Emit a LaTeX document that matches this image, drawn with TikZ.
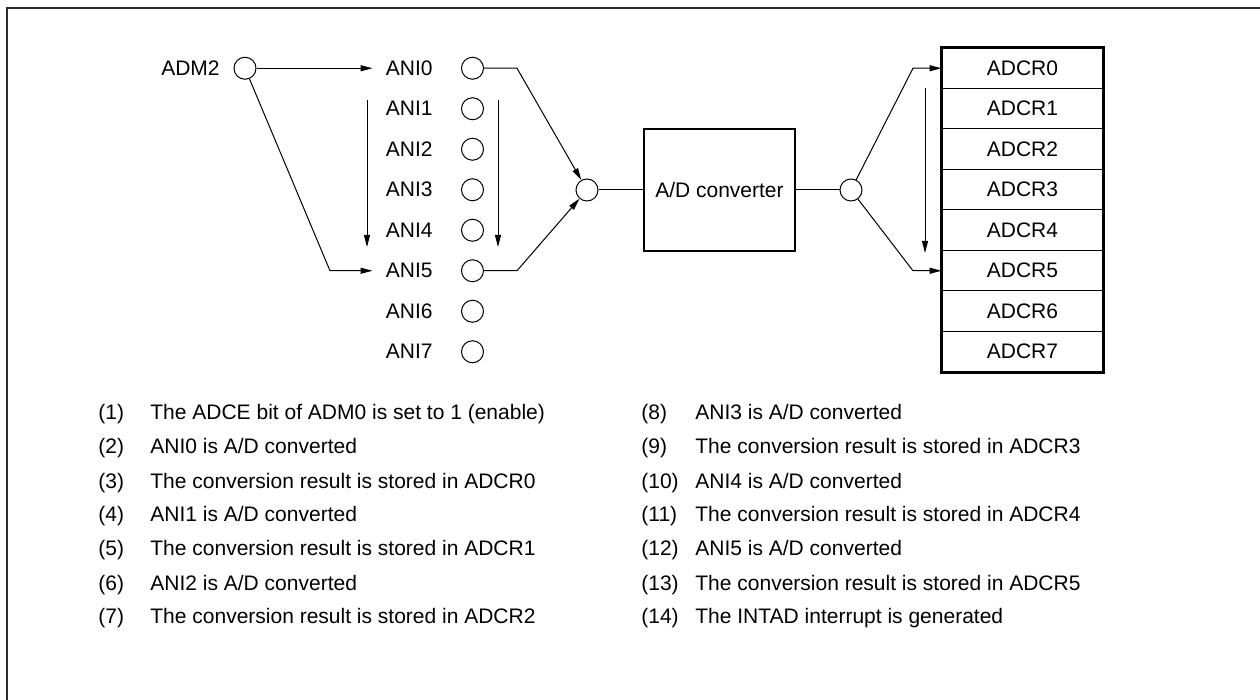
\documentclass[tikz,border=0pt]{standalone}
\usepackage{fontspec}
\setmainfont{Liberation Sans}
\usepackage{tikz}
\usetikzlibrary{arrows.meta, calc}
\definecolor{inkframe}{RGB}{45, 45, 45}
\tikzset{
    txt/.style  ={inner sep=0pt, font=\fontsize{10.5}{12}\selectfont},
    pin/.style  ={draw, circle, line width=0.5pt, minimum size=11pt, inner sep=0pt},
    conv/.style ={draw, line width=1.1pt, minimum width=75.5pt, minimum height=61pt,
                  inner sep=0pt, font=\fontsize{10.5}{12}\selectfont},
    reg/.style  ={draw, line width=0.5pt, minimum width=80.5pt, minimum height=20.25pt,
                  inner sep=0pt, font=\fontsize{10.5}{12}\selectfont},
    ln/.style   ={line width=0.5pt},
    ar/.style   ={-{Triangle[length=6pt, width=3pt]}, line width=0.5pt}
}

\begin{document}
\begin{tikzpicture}[x=0.5pt, y=-0.5pt]
  \useasboundingbox (0,0) rectangle (1260,700);
  \draw[line width=1pt, draw=inkframe] (6.5,700) -- (6.5,8.5) -- (1260,8.5);

  % mode register
  \node[txt, anchor=east] (adm2l) at (220,68.25) {ADM2};
  \node[pin] (adm2) at (245,68.25) {};

  % analog inputs
  \node[txt, anchor=east] (ani0l) at (433,68.25)  {ANI0};
  \node[txt, anchor=east] (ani1l) at (433,108.75) {ANI1};
  \node[txt, anchor=east] (ani2l) at (433,149.25) {ANI2};
  \node[txt, anchor=east] (ani3l) at (433,189.75) {ANI3};
  \node[txt, anchor=east] (ani4l) at (433,230.25) {ANI4};
  \node[txt, anchor=east] (ani5l) at (433,270.75) {ANI5};
  \node[txt, anchor=east] (ani6l) at (433,311.25) {ANI6};
  \node[txt, anchor=east] (ani7l) at (433,351.75) {ANI7};
  \node[pin] (ani0) at (472.5,68.25)  {};
  \node[pin] (ani1) at (472.5,108.75) {};
  \node[pin] (ani2) at (472.5,149.25) {};
  \node[pin] (ani3) at (472.5,189.75) {};
  \node[pin] (ani4) at (472.5,230.25) {};
  \node[pin] (ani5) at (472.5,270.75) {};
  \node[pin] (ani6) at (472.5,311.25) {};
  \node[pin] (ani7) at (472.5,351.75) {};

  % converter
  \node[pin]  (mux)   at (587,190)   {};
  \node[conv] (adc)   at (719.5,190) {A/D converter};
  \node[pin]  (demux) at (851,190)   {};

  % result registers
  \node[reg] (adcr0) at (1022.5,68.25)  {ADCR0};
  \node[reg] (adcr1) at (1022.5,108.75) {ADCR1};
  \node[reg] (adcr2) at (1022.5,149.25) {ADCR2};
  \node[reg] (adcr3) at (1022.5,189.75) {ADCR3};
  \node[reg] (adcr4) at (1022.5,230.25) {ADCR4};
  \node[reg] (adcr5) at (1022.5,270.75) {ADCR5};
  \node[reg] (adcr6) at (1022.5,311.25) {ADCR6};
  \node[reg] (adcr7) at (1022.5,351.75) {ADCR7};
  \draw[line width=1.1pt] (adcr0.north west) rectangle (adcr7.south east);

  % scan range
  \draw[ar, shorten >=6.5pt] (adm2) -- (ani0l.west);
  \draw[ar, shorten >=6.5pt] (adm2) -- (330,270.75) -- (ani5l.west);
  \coordinate (scanl0) at (367,100);
  \coordinate (scanl1) at (367,247);
  \coordinate (scanr0) at (498,100);
  \coordinate (scanr1) at (498,247);
  \draw[ar] (scanl0) -- (scanl1);
  \draw[ar] (scanr0) -- (scanr1);

  \draw[ar] (ani0) -- (517,68.25)  -- (mux);
  \draw[ar] (ani5) -- (517,270.75) -- (mux);
  \draw[ln] (mux) -- (adc);
  \draw[ln] (adc) -- (demux);

  \draw[ar] (demux) -- (913,68.25)  -- (adcr0.west);
  \draw[ar] (demux) -- (913,270.75) -- (adcr5.west);
  \coordinate (store0) at (925,88);
  \coordinate (store1) at (925,253);
  \draw[ar] (store0) -- (store1);

  % sequence
  \node[txt, anchor=base west] (n1) at (98,420) {(1)};
  \node[txt, anchor=base west] (n2) at (98,454) {(2)};
  \node[txt, anchor=base west] (n3) at (98,488) {(3)};
  \node[txt, anchor=base west] (n4) at (98,522) {(4)};
  \node[txt, anchor=base west] (n5) at (98,556) {(5)};
  \node[txt, anchor=base west] (n6) at (98,590) {(6)};
  \node[txt, anchor=base west] (n7) at (98,624) {(7)};
  \node[txt, anchor=base west] (s1) at (150,420) {The ADCE bit of ADM0 is set to 1 (enable)};
  \node[txt, anchor=base west] (s2) at (150,454) {ANI0 is A/D converted};
  \node[txt, anchor=base west] (s3) at (150,488) {The conversion result is stored in ADCR0};
  \node[txt, anchor=base west] (s4) at (150,522) {ANI1 is A/D converted};
  \node[txt, anchor=base west] (s5) at (150,556) {The conversion result is stored in ADCR1};
  \node[txt, anchor=base west] (s6) at (150,590) {ANI2 is A/D converted};
  \node[txt, anchor=base west] (s7) at (150,624) {The conversion result is stored in ADCR2};

  \node[txt, anchor=base west] (n8)  at (641,420) {(8)};
  \node[txt, anchor=base west] (n9)  at (641,454) {(9)};
  \node[txt, anchor=base west] (n10) at (641,488) {(10)};
  \node[txt, anchor=base west] (n11) at (641,522) {(11)};
  \node[txt, anchor=base west] (n12) at (641,556) {(12)};
  \node[txt, anchor=base west] (n13) at (641,590) {(13)};
  \node[txt, anchor=base west] (n14) at (641,624) {(14)};
  \node[txt, anchor=base west] (s8)  at (695,420) {ANI3 is A/D converted};
  \node[txt, anchor=base west] (s9)  at (695,454) {The conversion result is stored in ADCR3};
  \node[txt, anchor=base west] (s10) at (695,488) {ANI4 is A/D converted};
  \node[txt, anchor=base west] (s11) at (695,522) {The conversion result is stored in ADCR4};
  \node[txt, anchor=base west] (s12) at (695,556) {ANI5 is A/D converted};
  \node[txt, anchor=base west] (s13) at (695,590) {The conversion result is stored in ADCR5};
  \node[txt, anchor=base west] (s14) at (695,624) {The INTAD interrupt is generated};
\end{tikzpicture}
\end{document}
